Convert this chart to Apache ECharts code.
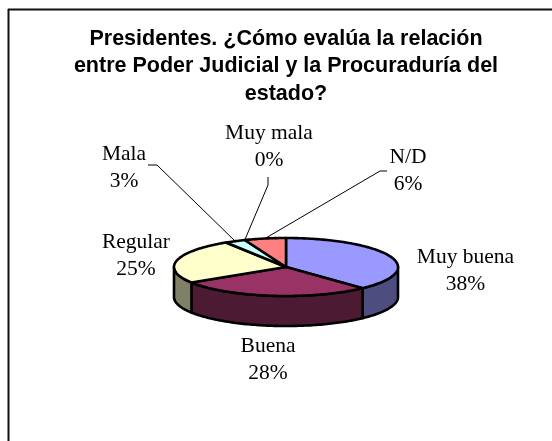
<!DOCTYPE html>
<html>
<head>
<meta charset="utf-8">
<style>html,body{margin:0;padding:0;background:#fff}#chart{width:552px;height:441px}</style>
<script src="https://cdn.jsdelivr.net/npm/echarts@6/dist/echarts.min.js"></script>
</head>
<body>
<div id="chart"></div>
<script>
// Survey answers, clockwise from twelve o'clock
const categories = ['Muy buena', 'Buena', 'Regular', 'Mala', 'Muy mala', 'N/D'];
const shares = [38, 28, 25, 3, 0, 6];
const topColors = ['#9999FF', '#993366', '#FFFFCC', '#CCFFFF', '#660066', '#FF8080'];
const wallColors = ['#4D4D80', '#4D1A33', '#808066', '#668080', '#330033', '#804040'];
const titleText = 'Presidentes. ¿Cómo evalúa la relación\nentre Poder Judicial y la Procuraduría del\nestado?';

// Disc geometry
const CX = 286, CY = 267, RX = 112, RY = 29, DEPTH = 30;
// Label centres relative to the disc centre, and leader elbows for the small slices
const labelOffsets = [[179.5, 3.5], [-18, 92.5], [-150, -11], [-162, -99.5], [-17, -120], [122, -96]];
const leaderElbows = [null, null, null,
  [[148, 165], [157, 165]],
  [[268, 177], [268, 185]],
  [[387, 171], [380, 171]]];

const total = shares.reduce((a, b) => a + b, 0);
const rad = (share) => (share / total) * Math.PI * 2;
const rim = (a, drop) => [CX + RX * Math.sin(a), CY - RY * Math.cos(a) + (drop || 0)];

function arc(a0, a1, drop) {
  const pts = [];
  const n = Math.max(2, Math.ceil((a1 - a0) / 0.02));
  for (let i = 0; i <= n; i++) pts.push(rim(a0 + (a1 - a0) * i / n, drop));
  return pts;
}

function renderSlice(params, api) {
  const i = params.dataIndex;
  const before = shares.slice(0, i).reduce((a, b) => a + b, 0);
  const a0 = rad(before), a1 = rad(before + api.value(0));
  const children = [];
  const edge = { stroke: '#000', lineWidth: 2.6, lineJoin: 'round' };

  // Outer wall: only the front half of the rim is visible
  const w0 = Math.max(a0, Math.PI / 2), w1 = Math.min(a1, Math.PI * 1.5);
  if (w1 > w0) {
    children.push({
      type: 'polygon', z2: 1,
      shape: { points: arc(w0, w1, 0).concat(arc(w0, w1, DEPTH).reverse()) },
      style: Object.assign({ fill: wallColors[i] }, edge)
    });
  }
  // Top face
  if (a1 > a0) {
    children.push({
      type: 'polygon', z2: 2,
      shape: { points: [[CX, CY]].concat(arc(a0, a1, 0)) },
      style: Object.assign({ fill: topColors[i] }, edge)
    });
  }
  // Leader line from the label elbow to the middle of the slice's rim
  if (leaderElbows[i]) {
    children.push({
      type: 'polyline', z2: 3,
      shape: { points: leaderElbows[i].concat([rim((a0 + a1) / 2, 0)]) },
      style: { stroke: '#000', lineWidth: 1, fill: null }
    });
  }
  children.push({
    type: 'text', z2: 4,
    style: {
      x: CX + labelOffsets[i][0], y: CY + labelOffsets[i][1],
      text: categories[i] + '\n' + api.value(0) + '%',
      font: '21.5px "Liberation Serif"', lineHeight: 27,
      fill: '#000', align: 'center', verticalAlign: 'middle'
    }
  });
  return { type: 'group', children };
}

const chart = echarts.init(document.getElementById('chart'), null, { renderer: 'canvas' });
chart.setOption({
  animation: false,
  backgroundColor: '#fff',
  title: {
    text: titleText, left: 281, top: 20, textAlign: 'center',
    textStyle: { fontFamily: 'Liberation Sans', fontWeight: 'bold', fontSize: 21.5, lineHeight: 27.5, color: '#000' }
  },
  graphic: [
    { type: 'line', shape: { x1: 8, y1: 9.5, x2: 552, y2: 9.5 }, style: { stroke: '#111', lineWidth: 2 } },
    { type: 'line', shape: { x1: 8.5, y1: 9, x2: 8.5, y2: 441 }, style: { stroke: '#111', lineWidth: 2 } }
  ],
  series: [{
    type: 'custom',
    coordinateSystem: 'none',
    renderItem: renderSlice,
    data: shares.map((v, i) => ({ name: categories[i], value: [v] })),
    silent: true
  }]
});
</script>
</body>
</html>
